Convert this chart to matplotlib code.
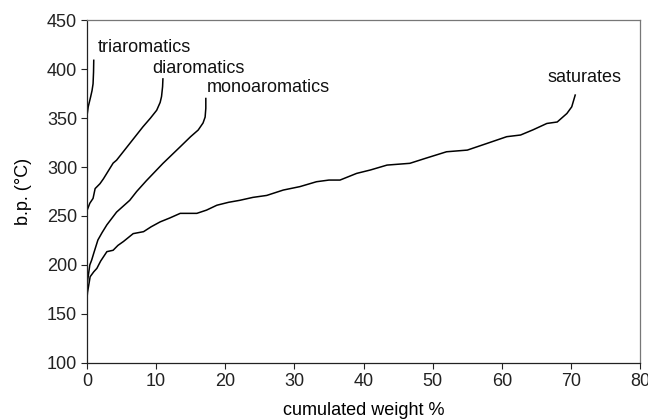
import matplotlib
matplotlib.use("Agg")
import matplotlib.pyplot as plt

plt.rcParams['font.family'] = ['Liberation Sans', 'DejaVu Sans']

# saturates
sat_x = [0, 0.1, 0.48, 1.0, 1.45, 2.0, 2.9, 3.8, 4.5, 5.3, 6.0, 6.7, 8.2, 9.3,
         10.6, 12.0, 13.5, 15.9, 17.3, 18.8, 20.5, 22.1, 24.0, 26.0, 28.4, 30.8,
         33.2, 35.0, 36.6, 39.0, 41.0, 43.4, 46.7, 49.0, 52.0, 55.0, 57.8, 60.7,
         62.7, 64.5, 66.5, 68.0, 69.4, 70.1, 70.6]
sat_y = [164, 172, 188, 193, 196.5, 204, 213.6, 215, 220, 224, 228, 232, 234, 239,
         244, 248, 252.7, 252.7, 256, 261, 264, 266, 269, 271, 276.5, 280,
         285, 286.7, 286.7, 293.5, 297, 302, 303.8, 309, 315.6, 317.3, 324, 331,
         332.7, 338, 344.5, 346, 354.7, 361.5, 373.5]

# monoaromatics
mono_x = [0, 0.05, 0.43, 0.7, 1.0, 1.6, 2.2, 2.9, 4.3, 6.2, 7.2, 8.6, 11.0, 13.5,
          15.0, 16.1, 16.8, 17.1, 17.2, 17.2]
mono_y = [164, 181, 200, 205, 212, 225.5, 233, 241, 254, 266, 275, 286, 303.7, 320.7,
          331, 337.8, 345, 351, 360, 370]

# diaromatics
di_x = [0, 0.02, 0.05, 0.43, 0.9, 1.2, 1.9, 2.4, 3.8, 4.3, 6.2, 8.1, 9.2, 10.1,
        10.6, 10.8, 10.95, 11.0]
di_y = [239, 250, 256, 263, 268, 278, 283, 288, 304, 307, 324, 341, 350, 358,
        366, 372, 382, 390]

# triaromatics
tri_x = [0, 0.0, 0.2, 0.55, 0.75, 0.9, 0.97, 1.0]
tri_y = [341, 351, 361.5, 371.7, 378, 385, 397, 409]

labels = ['triaromatics', 'diaromatics', 'monoaromatics', 'saturates']
label_x = [1.6, 9.4, 17.3, 66.6]
label_y = [422, 401, 381, 391]

fig = plt.figure(figsize=(6.48, 4.2), dpi=100)
ax = fig.add_axes([0.134, 0.136, 0.854, 0.816])

for xs, ys in [(sat_x, sat_y), (mono_x, mono_y), (di_x, di_y), (tri_x, tri_y)]:
    ax.plot(xs, ys, color='black', lw=1.1)

for lab, lx, ly in zip(labels, label_x, label_y):
    ax.text(lx, ly, lab, fontsize=13, ha='left', va='center', color='#111111')

ax.set_xlim(0, 80)
ax.set_ylim(100, 450)
ax.set_xticks(range(0, 81, 10))
ax.set_yticks(range(100, 451, 50))
ax.tick_params(direction='out', length=4, width=0.8, labelsize=13, colors='#222222', pad=3)
ax.set_xlabel('cumulated weight %', fontsize=13, labelpad=9)
ax.set_ylabel('b.p. (°C)', fontsize=13, labelpad=11)

for side in ['left', 'bottom']:
    ax.spines[side].set_color('#222222')
    ax.spines[side].set_linewidth(0.9)
for side in ['top', 'right']:
    ax.spines[side].set_color('#777777')
    ax.spines[side].set_linewidth(0.9)

fig.savefig('out.png', dpi=100)
